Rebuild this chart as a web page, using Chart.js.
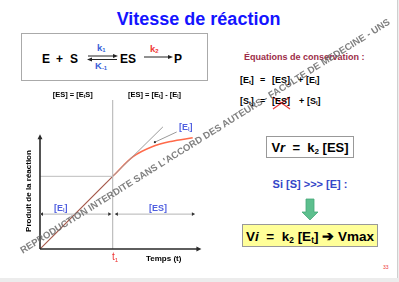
<!DOCTYPE html>
<html><head><meta charset="utf-8">
<script src="https://cdn.jsdelivr.net/npm/chart.js@4/dist/chart.umd.min.js"></script>
<style>
html,body{margin:0;padding:0;background:#fff;}
body{width:399px;height:282px;position:relative;overflow:hidden;font-family:"Liberation Sans",Arial,sans-serif;}
.t{position:absolute;line-height:1;white-space:nowrap;font-weight:bold;}
sub{font-size:0.62em;vertical-align:-0.25em;line-height:0;}
#chart{position:absolute;left:0;top:90px;}
.box{position:absolute;box-sizing:border-box;display:flex;align-items:center;justify-content:center;font-weight:bold;white-space:nowrap;}
</style></head><body>
<div style="position:absolute;left:397px;top:0;width:1px;height:282px;background:#cfcfcf"></div>
<div style="position:absolute;left:398px;top:0;width:1px;height:282px;background:#eee"></div>
<div style="position:absolute;left:0;top:278px;width:399px;height:4px;background:#ececec"></div>

<div class="t" style="left:0;width:397px;text-align:center;top:9.8px;font-size:18px;color:#1414ff">Vitesse de réaction</div>

<div style="position:absolute;left:21px;top:33px;width:187px;height:48px;box-sizing:border-box;border:1px solid #aaa"></div>
<div class="t" style="left:42px;top:52.8px;font-size:12px">E</div>
<div class="t" style="left:56px;top:52.8px;font-size:12px">+</div>
<div class="t" style="left:70px;top:52.8px;font-size:12px">S</div>
<div class="t" style="left:120px;top:52.8px;font-size:12px">ES</div>
<div class="t" style="left:174px;top:52.8px;font-size:12px">P</div>
<div class="t" style="left:97px;top:43.4px;font-size:9.5px;color:#3a5fd8">k<sub>1</sub></div>
<div class="t" style="left:95px;top:61.4px;font-size:9.5px;color:#3a5fd8">K<sub>-1</sub></div>
<div class="t" style="left:150px;top:43.9px;font-size:9.5px;color:#f03a3a">k<sub>2</sub></div>

<svg style="position:absolute;left:0;top:0" width="399" height="282">
  <line x1="88" y1="56" x2="114" y2="56" stroke="#222" stroke-width="1"/>
  <polygon points="118,56 113,54 113,58" fill="#222"/>
  <line x1="91" y1="59.5" x2="117" y2="59.5" stroke="#222" stroke-width="1"/>
  <polygon points="87,59.5 92,57.5 92,61.5" fill="#222"/>
  <line x1="144" y1="57" x2="169" y2="57" stroke="#222" stroke-width="1"/>
  <polygon points="173,57 168,55 168,59" fill="#222"/>
  <line x1="273" y1="97" x2="290" y2="109" stroke="#e83a3a" stroke-width="1.2"/>
  <line x1="290" y1="97" x2="273" y2="109" stroke="#e83a3a" stroke-width="1.2"/>
  <polygon points="306,199 314,199 314,212 318,212 310,220 302,212 306,212" fill="#5dbf8e" stroke="#48a878" stroke-width="0.8"/>
</svg>

<div class="t" style="left:244px;top:53.4px;font-size:9px;color:#9c2c48">Équations de conservation :</div>
<div class="t" style="left:240px;top:76.4px;font-size:9px">[E<sub>t</sub>]</div>
<div class="t" style="left:260px;top:76.4px;font-size:9px">=</div>
<div class="t" style="left:272px;top:76.4px;font-size:9px">[ES]</div>
<div class="t" style="left:298px;top:76.4px;font-size:9px">+</div>
<div class="t" style="left:306px;top:76.4px;font-size:9px">[E<sub>l</sub>]</div>
<div class="t" style="left:240px;top:97.4px;font-size:9px">[S<sub>t</sub>]</div>
<div class="t" style="left:260px;top:97.4px;font-size:9px">=</div>
<div class="t" style="left:272px;top:97.4px;font-size:9px">[ES]</div>
<div class="t" style="left:299px;top:97.4px;font-size:9px">+</div>
<div class="t" style="left:307px;top:97.4px;font-size:9px">[S<sub>l</sub>]</div>

<div class="box" style="left:266px;top:136px;width:88px;height:22px;border:1px solid #999;font-size:13px;background:#fff"><span>V<i>r</i>&nbsp; = &nbsp;k<sub>2</sub>&nbsp;[ES]</span></div>
<div class="t" style="left:230px;width:160px;text-align:center;top:178.7px;font-size:11px;color:#3446c8">Si [S] &gt;&gt;&gt; [E] :</div>
<div class="box" style="left:242px;top:224px;width:136px;height:23px;border:1px solid #999;font-size:13.5px;background:#ffff99"><span>V<i>i</i>&nbsp; = &nbsp;k<sub>2</sub>&nbsp;[E<sub>t</sub>]&nbsp;➔&nbsp;Vmax</span></div>
<div class="t" style="left:383px;top:264.8px;font-size:5px;color:#e33;font-weight:normal">33</div>

<canvas id="chart" width="210" height="170"></canvas>

<div class="t" style="left:52.7px;top:91.2px;font-size:7.5px">[ES] = [E<sub>t</sub>S]</div>
<div class="t" style="left:128px;top:91.2px;font-size:7.5px">[ES] = [E<sub>t</sub>] - [E<sub>l</sub>]</div>
<div class="t" style="left:179px;top:123.4px;font-size:9px;color:#4f5fe0">[E<sub>l</sub>]</div>
<div class="t" style="left:54px;top:204.4px;font-size:9px;color:#4f5fe0">[E<sub>l</sub>]</div>
<div class="t" style="left:149px;top:204.4px;font-size:9px;color:#4f5fe0">[ES]</div>
<div class="t" style="left:112px;top:251.5px;font-size:10px;color:#e33;font-weight:normal">t<sub>1</sub></div>
<div class="t" style="left:146px;top:255.2px;font-size:8px">Temps (t)</div>
<div class="t" style="left:29px;top:191px;font-size:8px;transform:translate(-50%,-50%) rotate(-90deg)">Produit de la réaction</div>

<div class="t" style="left:205px;top:136px;font-size:9.5px;letter-spacing:0.05px;color:rgba(105,105,105,0.85);transform:translate(-50%,-50%) rotate(-32deg)">REPRODUCTION INTERDITE SANS L'ACCORD DES AUTEURS - FACULTE DE MEDECINE - UNS</div>

<script>
// Time axis (t1 = 1 unit) and product values
const t1 = 1;
const plateauProduct = 1;
const initialTime = [0, 1];
const initialProduct = [0, 1];
const tangentTime = [1, 1.69];
const tangentProduct = [1, 1.68];
const curveTime = [1, 1.28, 1.55, 1.8, 2.1];
const curveProduct = [1, 1.27, 1.41, 1.48, 1.53];
const t1LineProduct = [0, 2.05];
const leaderTime = [1.58, 1.88];
const leaderProduct = [1.47, 1.61];
const axisMaxTime = 2.22;
const axisMaxProduct = 1.58;
const bracketProduct = 0.48;
const bracketTime = [0, 0.98, 1.03, 2.13];

const pts = (xs, ys) => xs.map((x, i) => ({x, y: ys[i]}));

const drawing = {
  id: 'drawing',
  afterDatasetsDraw(chart) {
    const {ctx, scales: {x, y}} = chart;
    const X = v => x.getPixelForValue(v), Y = v => y.getPixelForValue(v);
    ctx.save();
    // axes
    ctx.strokeStyle = '#2a2a2a'; ctx.fillStyle = '#2a2a2a'; ctx.lineWidth = 1.6;
    ctx.beginPath();
    ctx.moveTo(X(0), Y(0)); ctx.lineTo(X(axisMaxTime) - 3, Y(0));
    ctx.moveTo(X(0), Y(0)); ctx.lineTo(X(0), Y(axisMaxProduct) + 3);
    ctx.stroke();
    ctx.beginPath();
    ctx.moveTo(X(axisMaxTime), Y(0)); ctx.lineTo(X(axisMaxTime) - 5, Y(0) - 2.5); ctx.lineTo(X(axisMaxTime) - 5, Y(0) + 2.5); ctx.closePath();
    ctx.moveTo(X(0), Y(axisMaxProduct)); ctx.lineTo(X(0) - 2.5, Y(axisMaxProduct) + 5); ctx.lineTo(X(0) + 2.5, Y(axisMaxProduct) + 5); ctx.closePath();
    ctx.fill();
    // brackets
    const by = Y(bracketProduct);
    ctx.strokeStyle = '#b4b4b4'; ctx.lineWidth = 1;
    ctx.beginPath();
    ctx.moveTo(X(bracketTime[0]), by); ctx.lineTo(X(bracketTime[1]), by);
    ctx.moveTo(X(bracketTime[2]), by); ctx.lineTo(X(bracketTime[3]), by);
    ctx.stroke();
    ctx.fillStyle = '#333';
    const head = (px, dir) => { ctx.beginPath(); ctx.moveTo(px, by); ctx.lineTo(px - dir * 3, by - 1.8); ctx.lineTo(px - dir * 3, by + 1.8); ctx.closePath(); ctx.fill(); };
    head(X(bracketTime[0]), -1); head(X(bracketTime[1]), 1);
    head(X(bracketTime[2]), -1); head(X(bracketTime[3]), 1);
    // leader dot
    ctx.beginPath(); ctx.arc(X(leaderTime[0]), Y(leaderProduct[0]), 1.1, 0, Math.PI * 2); ctx.fill();
    ctx.restore();
  }
};

new Chart(document.getElementById('chart'), {
  type: 'scatter',
  data: {
    datasets: [
      {data: pts([0, t1], [plateauProduct, plateauProduct]), borderColor: '#bdbdbd', borderWidth: 1},
      {data: pts([t1, t1], t1LineProduct), borderColor: '#b0b0b0', borderWidth: 1},
      {data: pts(tangentTime, tangentProduct), borderColor: '#9a9a9a', borderWidth: 1},
      {data: pts(leaderTime, leaderProduct), borderColor: '#9a9a9a', borderWidth: 1},
      {data: pts(curveTime, curveProduct), borderColor: '#ff6a4a', borderWidth: 1.5, cubicInterpolationMode: 'monotone'},
      {data: pts(initialTime, initialProduct), borderColor: '#a5584a', borderWidth: 1.2}
    ].map(d => Object.assign({showLine: true, pointRadius: 0, fill: false}, d))
  },
  options: {
    responsive: false,
    animation: false,
    devicePixelRatio: 1,
    layout: {padding: {left: 40, right: 6.4, top: 10, bottom: 11}},
    plugins: {legend: {display: false}, tooltip: {enabled: false}},
    scales: {
      x: {type: 'linear', min: 0, max: 2.25, display: false},
      y: {type: 'linear', min: 0, max: 2.05, display: false}
    }
  },
  plugins: [drawing]
});
</script>
</body></html>
